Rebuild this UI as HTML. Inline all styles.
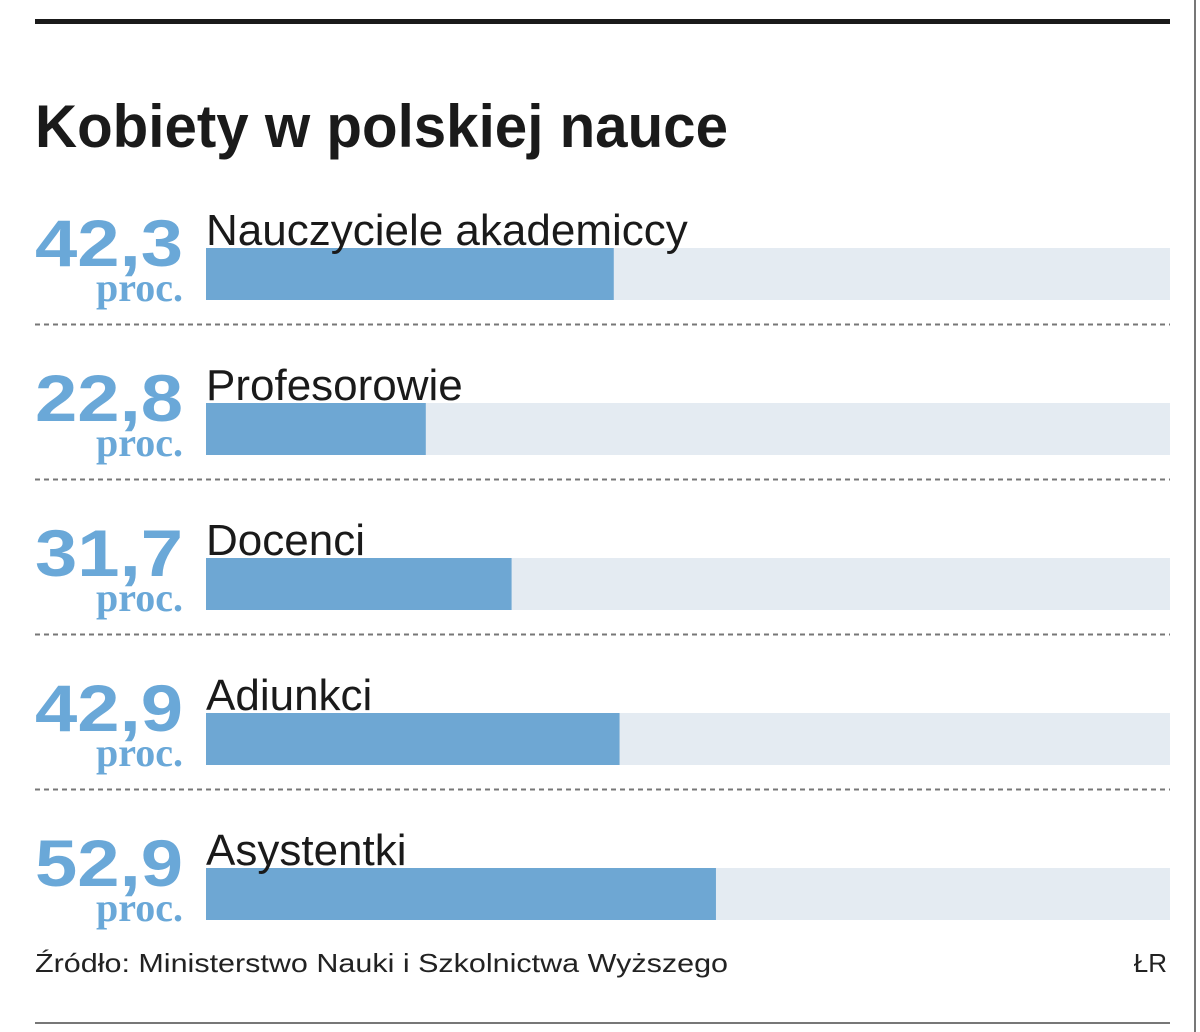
<!DOCTYPE html>
<html><head><meta charset="utf-8"><style>
html,body{margin:0;padding:0;background:#fff;}
svg{display:block;}
</style></head><body>
<svg id="chart" width="1200" height="1032" viewBox="0 0 1200 1032" xmlns="http://www.w3.org/2000/svg">
  <rect x="0" y="0" width="1200" height="1032" fill="#fff"/>
  <rect x="35" y="19" width="1135" height="5" fill="#1a1a1a"/>
  <rect x="1194" y="0" width="2" height="1032" fill="#777"/>
  <text x="35" y="147" font-family="Liberation Sans, sans-serif" font-weight="bold" font-size="60" fill="#1a1a1a" textLength="693" lengthAdjust="spacingAndGlyphs">Kobiety w polskiej nauce</text>
  <g id="rows"></g>
  <text x="35" y="972" font-family="Liberation Sans, sans-serif" font-size="26" fill="#222" textLength="693" lengthAdjust="spacingAndGlyphs">Źródło: Ministerstwo Nauki i Szkolnictwa Wyższego</text>
  <text x="1167" y="972" text-anchor="end" font-family="Liberation Sans, sans-serif" font-size="26" fill="#222">ŁR</text>
  <rect x="35" y="1022" width="1135" height="2" fill="#777"/>
</svg>
<script>
const categories = ["Nauczyciele akademiccy", "Profesorowie", "Docenci", "Adiunkci", "Asystentki"];
const values = [42.3, 22.8, 31.7, 42.9, 52.9];
const valueLabels = ["42,3", "22,8", "31,7", "42,9", "52,9"];

const NS = "http://www.w3.org/2000/svg";
const g = document.getElementById("rows");
const x0 = 206, x1 = 1170, rowTop = 248, rowStep = 155, barH = 52;
function xScale(v){ return x0 + (x1 - x0) * v / 100; }
function mk(tag, attrs){ const e = document.createElementNS(NS, tag); for (const k in attrs) e.setAttribute(k, attrs[k]); return e; }

categories.forEach((cat, i) => {
  const y = rowTop + i * rowStep;
  const track = mk("rect", {x: x0, y: y, width: x1 - x0, height: barH, fill: "#e4ebf2"});
  
  
  g.appendChild(track);
  const bar = mk("rect", {x: x0, y: y, width: xScale(values[i]) - x0, height: barH, fill: "#6ea7d3"});
  
  
  g.appendChild(bar);
  const lab = mk("text", {x: x0, y: y - 3, "font-family": "Liberation Sans, sans-serif", "font-size": "44", fill: "#1a1a1a"});
  lab.textContent = cat;
  
  
  g.appendChild(lab);
  const num = mk("text", {x: 183, y: y + 18, "text-anchor": "end", "font-family": "Liberation Sans, sans-serif", "font-weight": "bold", "font-size": "66", fill: "#6aa8d8", textLength: "148", lengthAdjust: "spacingAndGlyphs"});
  num.textContent = valueLabels[i];
  
  
  g.appendChild(num);
  const unit = mk("text", {x: 183, y: y + 53, "text-anchor": "end", "font-family": "Liberation Serif, serif", "font-weight": "bold", "font-size": "40", fill: "#6aa8d8"});
  unit.textContent = "proc.";
  
  
  g.appendChild(unit);
  if (i < categories.length - 1) {
    const sep = mk("line", {x1: 35, x2: 1170, y1: y + 76.5, y2: y + 76.5, stroke: "#777", "stroke-width": "2", "stroke-dasharray": "5 4"});
    
    
    g.appendChild(sep);
  }
});
</script>
</body></html>
